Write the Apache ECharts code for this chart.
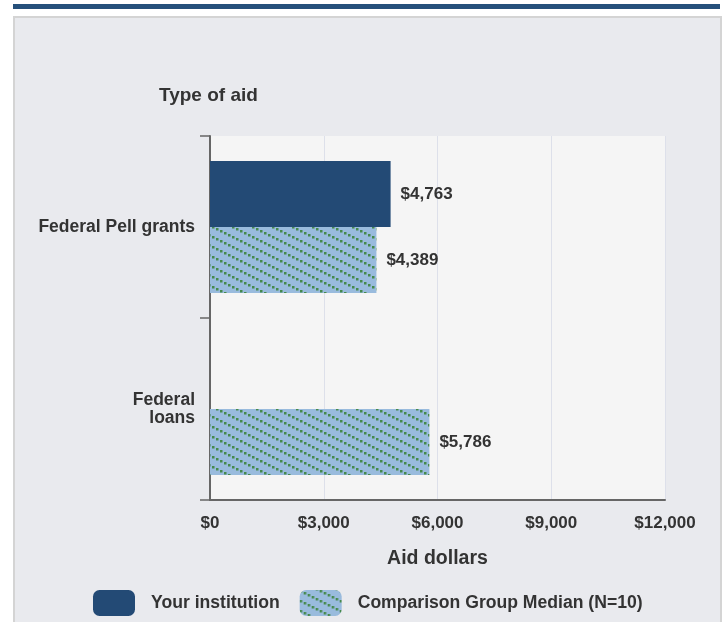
<!DOCTYPE html>
<html>
<head>
<meta charset="utf-8">
<script src="https://cdn.jsdelivr.net/npm/echarts@6/dist/echarts.min.js"></script>
<style>
html,body{margin:0;padding:0;background:#ffffff;}
#chart{width:726px;height:622px;}
</style>
</head>
<body>
<div id="chart"></div>
<script>
var categories = ['Federal Pell grants', 'Federal\nloans'];
var seriesNames = ['Your institution', 'Comparison Group Median (N=10)'];
var yourInstitution = [4763, null];
var comparisonMedian = [4389, 5786];
var xTicks = [0, 3000, 6000, 9000, 12000];

function makePattern() {
  var c = document.createElement('canvas');
  c.width = 20; c.height = 10;
  var ctx = c.getContext('2d');
  ctx.fillStyle = '#99bbdd';
  ctx.fillRect(0, 0, 20, 10);
  ctx.fillStyle = '#468a4c';
  for (var i = 0; i < 5; i++) {
    var x = i * 4, y = i * 2;
    ctx.fillRect(x, y, 2.5, 2.5);
    ctx.fillRect(x - 20, y, 2.5, 2.5);
    ctx.fillRect(x, y - 10, 2.5, 2.5);
  }
  return c;
}
function money(v) {
  return '$' + Math.round(v).toString().replace(/\B(?=(\d{3})+(?!\d))/g, ',');
}
var FONT = 'Arial, "Liberation Sans", sans-serif';
var chart = echarts.init(document.getElementById('chart'), null, {renderer: 'canvas'});
var pattern = {image: makePattern(), repeat: 'repeat'};
chart.setOption({
  animation: false,
  backgroundColor: '#ffffff',
  graphic: [
    {type: 'rect', z: -10, shape: {x: 13, y: 4, width: 707, height: 5}, style: {fill: '#26507b'}},
    {type: 'rect', z: -10, shape: {x: 14, y: 17, width: 707, height: 620}, style: {fill: '#e9eaee', stroke: '#d4d4d4', lineWidth: 2}}
  ],
  title: {
    text: 'Type of aid', left: 159, top: 86, padding: 0,
    textStyle: {fontFamily: FONT, fontWeight: 'bold', fontSize: 19, color: '#333'}
  },
  grid: {
    left: 210, right: 61, top: 136, bottom: 122,
    show: true, backgroundColor: '#f5f5f5', borderWidth: 0
  },
  legend: {
    bottom: 6, left: 93, padding: 0,
    itemWidth: 42, itemHeight: 26, itemGap: 20,
    icon: 'roundRect',
    data: seriesNames,
    textStyle: {fontFamily: FONT, fontWeight: 'bold', fontSize: 17.6, color: '#333', padding: [0, 0, 0, 11]}
  },
  xAxis: {
    type: 'value', min: xTicks[0], max: xTicks[xTicks.length - 1], interval: 3000,
    name: 'Aid dollars', nameLocation: 'middle', nameGap: 49,
    nameTextStyle: {fontFamily: FONT, fontWeight: 'bold', fontSize: 19.5, color: '#333'},
    axisLine: {show: true, lineStyle: {color: '#666', width: 2}},
    axisTick: {show: false},
    axisLabel: {margin: 15, fontFamily: FONT, fontWeight: 'bold', fontSize: 17, color: '#333', formatter: money},
    splitLine: {show: true, lineStyle: {color: '#dde0ea', width: 1}}
  },
  yAxis: {
    type: 'category', inverse: true, data: categories,
    axisLine: {show: true, lineStyle: {color: '#666', width: 2}},
    axisTick: {show: true, length: 10, lineStyle: {color: '#666', width: 1.5}},
    axisLabel: {margin: 15, fontFamily: FONT, fontWeight: 'bold', fontSize: 17.5, color: '#333', lineHeight: 18, align: 'right'},
    splitLine: {show: false}
  },
  series: [
    {
      name: seriesNames[0], type: 'bar', data: yourInstitution,
      barWidth: 66, barGap: '0%',
      itemStyle: {color: '#234a75'},
      label: {show: true, position: 'right', distance: 10, formatter: function(p){return money(p.value);},
        fontFamily: FONT, fontWeight: 'bold', fontSize: 17, color: '#333'}
    },
    {
      name: seriesNames[1], type: 'bar', data: comparisonMedian,
      barWidth: 66, barGap: '0%',
      itemStyle: {color: pattern},
      label: {show: true, position: 'right', distance: 10, formatter: function(p){return money(p.value);},
        fontFamily: FONT, fontWeight: 'bold', fontSize: 17, color: '#333'}
    }
  ]
});
</script>
</body>
</html>
